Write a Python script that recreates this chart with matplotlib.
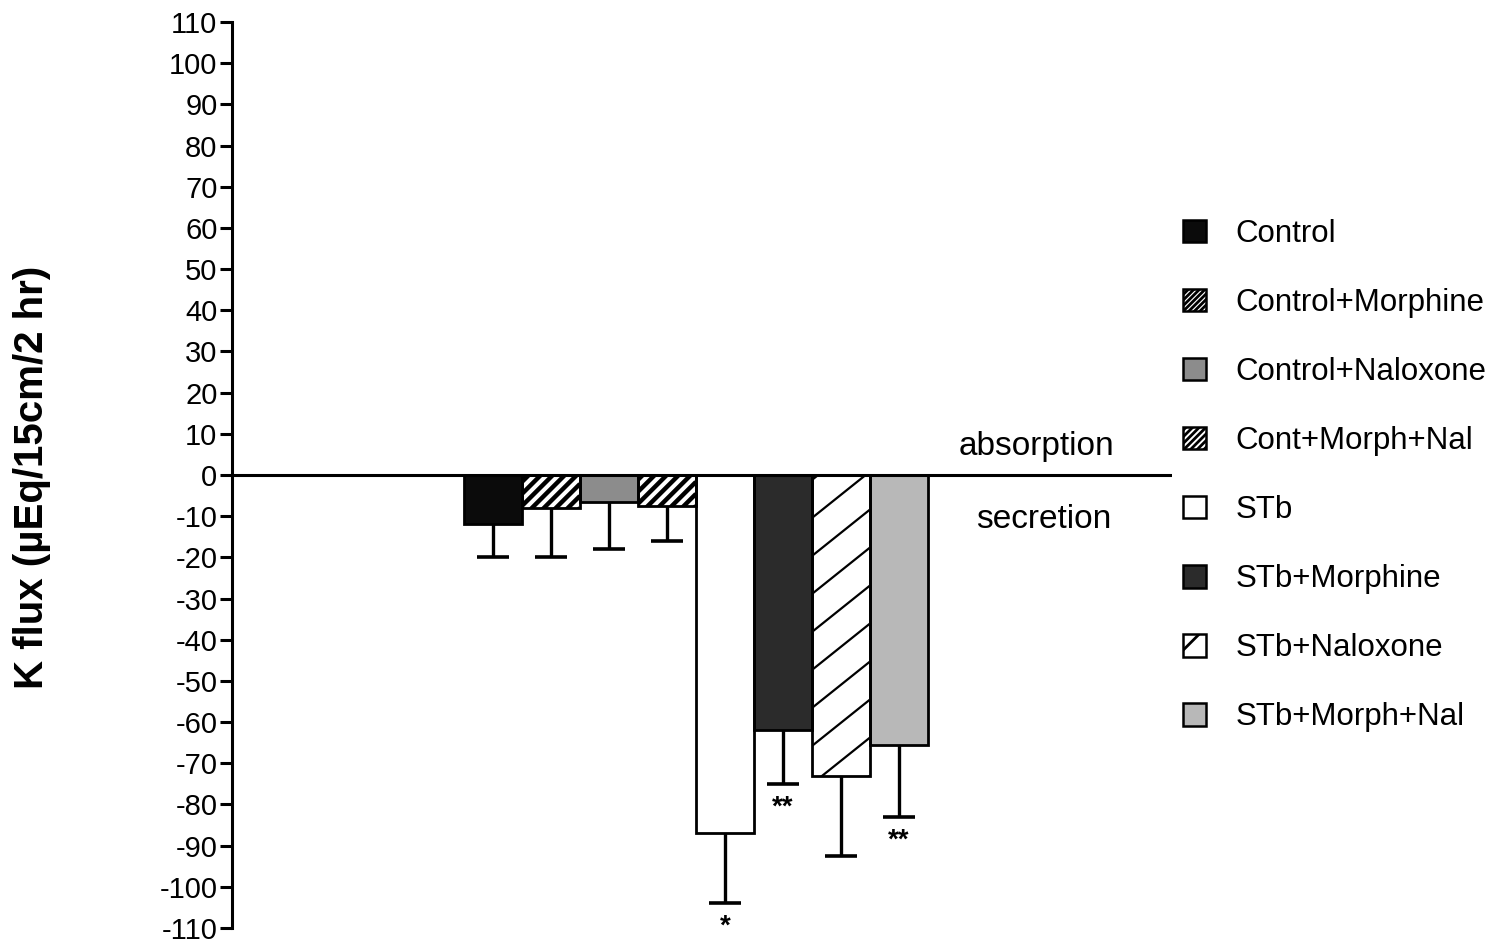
import numpy as np
import matplotlib.pyplot as plt
from matplotlib.patches import Patch

plt.rcParams['font.family'] = ['Liberation Sans', 'DejaVu Sans']
plt.rcParams['hatch.linewidth'] = 2.0
plt.rcParams['axes.unicode_minus'] = False

groups = ['Control', 'Control+Morphine', 'Control+Naloxone', 'Cont+Morph+Nal',
          'STb', 'STb+Morphine', 'STb+Naloxone', 'STb+Morph+Nal']
k_flux = [-12, -8, -6.5, -7.5, -87, -62, -73, -65.5]
k_sem = [8, 12, 11.5, 8.5, 17, 13, 19.5, 17.5]
stars = ['', '', '', '', '*', '**', '', '**']

# fill colour, hatch stripe spacing (px, 0 = none), stripe width, stripe slope
fills = ['#0b0b0b', 'white', '#8c8c8c', 'white', 'white', '#2b2b2b', 'white', '#b8b8b8']
stripes = [0, 12, 0, 12, 0, 0, 38, 0]
stripe_lw = [0, 3.2, 0, 3.2, 0, 0, 1.6, 0]
stripe_slope = [1.0, 1.0, 1.0, 1.0, 1.0, 1.0, 0.8, 1.0]
legend_hatch = [None, '//////', None, '/////', None, None, '/', None]

fig = plt.figure(figsize=(14.96, 9.46), dpi=100)
ax = fig.add_axes([232 / 1496, 18 / 946, 940 / 1496, 906 / 946])

x = np.arange(len(groups))
ax.set_xlim(-4.5, 11.71)
ax.set_ylim(-110, 110)

bars = ax.bar(x, k_flux, width=1.0, color=fills, edgecolor='none', zorder=2)


def stripe_bar(bar, spacing, lw, slope):
    # diagonal lines in pixel space, clipped to the bar outline
    x0, y0 = bar.get_x(), bar.get_y()
    x1, y1 = x0 + bar.get_width(), y0 + bar.get_height()
    (px0, py0), (px1, py1) = ax.transData.transform([(x0, min(y0, y1)), (x1, max(y0, y1))])
    inv = ax.transData.inverted()
    w = px1 - px0
    h = py1 - py0
    for c in np.arange(-w * slope - spacing, h + spacing, spacing):
        pts = inv.transform([(px0, py0 + c), (px1, py0 + c + w * slope)])
        ln, = ax.plot(pts[:, 0], pts[:, 1], color='black', lw=lw, zorder=3,
                      solid_capstyle='butt')
        ln.set_clip_path(bar)


for bar, sp, lw, sl in zip(bars, stripes, stripe_lw, stripe_slope):
    if sp:
        stripe_bar(bar, sp, lw, sl)

# outlines above the stripes
ax.bar(x, k_flux, width=1.0, color='none', edgecolor='black', linewidth=2.0, zorder=4)

lows = np.array(k_flux) - np.array(k_sem)
ax.vlines(x, k_flux, lows, color='black', lw=2.4, zorder=1)
ax.plot(x, lows, ls='none', marker='_', ms=23, mew=2.6, color='black', zorder=1)

for xi, lo, s in zip(x, lows, stars):
    if s:
        ax.text(xi, lo - 2.6, s, ha='center', va='top', fontsize=20, fontweight='bold')

ax.axhline(0, color='black', lw=2.2, zorder=5)

ax.text(9.38, 6.8, 'absorption', ha='center', va='center', fontsize=24)
ax.text(9.5, -10.7, 'secretion', ha='center', va='center', fontsize=24)

for s in ['top', 'right', 'bottom']:
    ax.spines[s].set_visible(False)
ax.spines['left'].set_linewidth(2.2)
ax.set_xticks([])
ax.set_yticks(np.arange(-110, 111, 10))
ax.tick_params(axis='y', direction='out', length=9, width=2.2, pad=1.5, labelsize=21)

fig.text(32 / 1496, 1 - 477 / 946, 'K flux (\u00b5Eq/15cm/2 hr)', rotation=90,
         ha='center', va='center', fontsize=29, fontweight='bold')

handles = [Patch(facecolor=f, edgecolor='black', linewidth=1.8, hatch=h)
           for f, h in zip(fills, legend_hatch)]
fig.legend(handles, groups, loc='upper left', bbox_to_anchor=(1183 / 1496, 1 - 219 / 946),
           frameon=False, fontsize=22.5, handlelength=0.72, handleheight=0.72,
           handletextpad=0.95, labelspacing=1.25, borderpad=0, borderaxespad=0)

fig.savefig('out.png', dpi=100)
